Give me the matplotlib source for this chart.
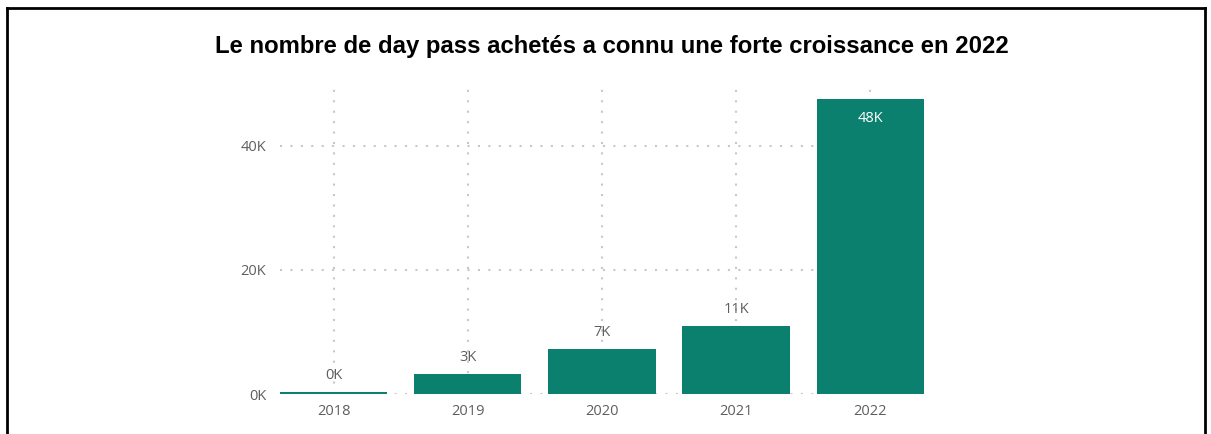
import matplotlib
matplotlib.use("Agg")
import matplotlib.pyplot as plt
from matplotlib.lines import Line2D

categories = ["2018", "2019", "2020", "2021", "2022"]
values = [350, 3250, 7300, 11000, 47600]
labels = ["0K", "3K", "7K", "11K", "48K"]
yticks = [0, 20000, 40000]
yticklabels = ["0K", "20K", "40K"]
title = "Le nombre de day pass achetés a connu une forte croissance en 2022"

W, H = 1211, 434
fig = plt.figure(figsize=(W / 100, H / 100), dpi=100)
ax = fig.add_axes([280 / W, (H - 394) / H, (924 - 280) / W, (394 - 88) / H])

bar_color = "#0b806e"
text_gray = "#605e5c"
grid_gray = "#c8c8c8"
fs = 10.5

x = list(range(len(categories)))
ax.bar(x, values, width=0.8, color=bar_color, zorder=3)
ax.set_xlim(-0.4, len(categories) - 0.6)
ax.set_ylim(0, 49300)

for xi, v, lab in zip(x, values, labels):
    if v > 40000:
        ax.annotate(lab, (xi, v), xytext=(0, -9), textcoords="offset points",
                    ha="center", va="top", color="white", fontsize=fs,
                    family="Open Sans", zorder=4)
    else:
        ax.annotate(lab, (xi, v), xytext=(0, 6), textcoords="offset points",
                    ha="center", va="bottom", color=text_gray, fontsize=fs,
                    family="Open Sans", zorder=4)

ax.set_xticks(x)
ax.set_xticklabels(categories)
ax.set_yticks(yticks)
ax.set_yticklabels(yticklabels)
ax.tick_params(axis="both", length=0, labelcolor=text_gray, labelsize=fs)
ax.tick_params(axis="x", pad=7.5)
ax.tick_params(axis="y", pad=10)
for t in ax.get_xticklabels() + ax.get_yticklabels():
    t.set_family("Open Sans")

for s in ax.spines.values():
    s.set_visible(False)

ax.grid(True, axis="both", linestyle=(0, (1, 4)), color=grid_gray, linewidth=1.5, zorder=0)
ax.set_axisbelow(True)

fig.text(612 / W, 1 - 47 / H, title, ha="center", va="center",
         fontsize=17.2, fontweight="bold", family="Liberation Sans", color="black")

# border frame
lw = 2
fig.add_artist(Line2D([7 / W, 7 / W], [0, 1 - 8 / H], transform=fig.transFigure, color="black", lw=lw))
fig.add_artist(Line2D([1205 / W, 1205 / W], [0, 1 - 8 / H], transform=fig.transFigure, color="black", lw=lw))
fig.add_artist(Line2D([7 / W, 1205 / W], [1 - 8 / H, 1 - 8 / H], transform=fig.transFigure, color="black", lw=lw))

fig.savefig("out.png", dpi=100)
